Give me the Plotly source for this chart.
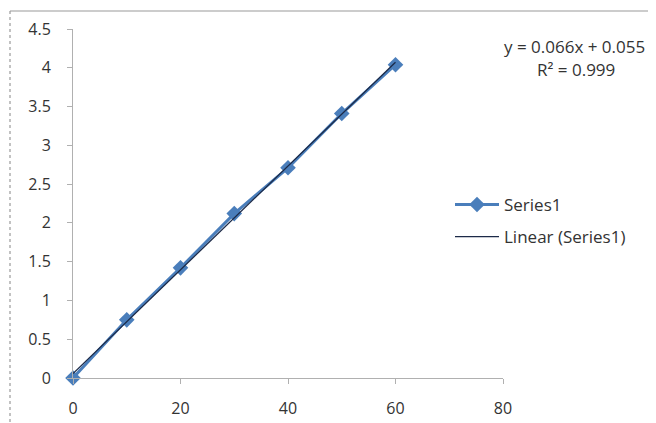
import numpy as np
import plotly.graph_objects as go

x_vals = [0, 10, 20, 30, 40, 50, 60]
y_vals = [0.0, 0.75, 1.42, 2.12, 2.71, 3.41, 4.04]
series_name = "Series1"
trend_name = "Linear (Series1)"
equation_line1 = "y = 0.066x + 0.055"
equation_line2 = "R² = 0.999"
x_ticks = [0, 20, 40, 60, 80]
y_ticks = [0, 0.5, 1, 1.5, 2, 2.5, 3, 3.5, 4, 4.5]

slope, intercept = np.polyfit(x_vals, y_vals, 1)
trend_x = [min(x_vals), max(x_vals)]
trend_y = [slope * v + intercept for v in trend_x]

# page body has an 8px margin; the figure is placed so the plot lands where the reference has it
OFF = 8
W, H = 656 - OFF, 423 - OFF
L, R, T, B = 73 - OFF, 153, 29 - OFF, 45
pw, ph = W - L - R, H - T - B

def px(xp):
    return (xp - OFF - L) / pw

def py(yp):
    return (H - B - (yp - OFF)) / ph

font_family = "'Open Sans', sans-serif"
txt_color = "#333333"

fig = go.Figure()
fig.add_trace(go.Scatter(
    x=x_vals, y=y_vals, mode="lines+markers", name=series_name,
    legendgroup="a",
    line=dict(color="#4a7ebb", width=3),
    marker=dict(symbol="diamond", size=12, color="#4a7ebb"),
    cliponaxis=False,
))
fig.add_trace(go.Scatter(
    x=trend_x, y=trend_y, mode="lines", name=trend_name,
    legendgroup="b",
    line=dict(color="#1c2a48", width=1.3),
    cliponaxis=False,
))

fig.add_annotation(
    text=equation_line1, xref="paper", yref="paper",
    x=px(574), y=py(46), xanchor="center", yanchor="middle",
    showarrow=False, font=dict(family=font_family, size=17, color=txt_color),
)
fig.add_annotation(
    text=equation_line2, xref="paper", yref="paper",
    x=px(576), y=py(69), xanchor="center", yanchor="middle",
    showarrow=False, font=dict(family=font_family, size=17, color=txt_color),
)

fig.add_shape(type="line", xref="paper", yref="paper",
              x0=px(10), x1=px(660), y0=py(11), y1=py(11),
              line=dict(color="#9a9a9a", width=1.2))
fig.add_shape(type="line", xref="paper", yref="paper",
              x0=px(10), x1=px(10), y0=py(11), y1=py(425),
              line=dict(color="#9a9a9a", width=1.2, dash="dot"))

fig.update_layout(
    width=W, height=H,
    margin=dict(l=L, r=R, t=T, b=B, autoexpand=False),
    paper_bgcolor="white", plot_bgcolor="white",
    font=dict(family=font_family, size=16, color=txt_color),
    showlegend=True,
    legend=dict(
        x=px(450), y=py(187), xanchor="left", yanchor="top",
        bgcolor="rgba(0,0,0,0)", font=dict(size=17, color=txt_color),
        itemwidth=44, tracegroupgap=7, traceorder="grouped",
    ),
    xaxis=dict(
        range=[0, 80], tickvals=x_ticks, showgrid=False, zeroline=False,
        showline=True, linecolor="#b0b0b0", linewidth=1,
        ticks="outside", ticklen=5, tickcolor="#b0b0b0",
        ticklabelstandoff=11, automargin=False,
        fixedrange=True,
    ),
    yaxis=dict(
        range=[0, 4.5], tickvals=y_ticks, showgrid=False, zeroline=False,
        showline=True, linecolor="#b0b0b0", linewidth=1,
        ticks="outside", ticklen=5, tickcolor="#b0b0b0",
        ticklabelstandoff=13, automargin=False,
        fixedrange=True,
    ),
)

fig.write_html("out.html")
